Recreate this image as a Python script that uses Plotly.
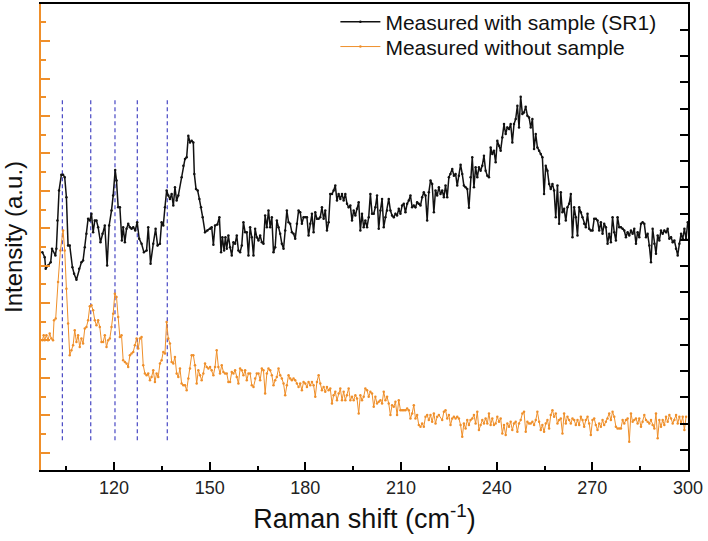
import plotly.graph_objects as go

# Raman spectrum measured with the sample (SR1) - right axis, arbitrary units
with_sample_x = [
    97.52, 98.26, 98.57, 99.30, 100.14, 100.56, 101.61, 101.92, 102.24, 102.76, 103.49, 104.02, 104.54, 105.07,
    105.59, 106.11, 106.95, 107.48, 108.21, 109.05, 109.78, 110.30, 110.83, 111.35, 111.87, 112.40, 112.92, 113.45,
    113.97, 114.49, 115.02, 115.75, 116.38, 117.11, 117.84, 118.47, 119.21, 119.73, 120.36, 120.78, 121.30, 121.83,
    122.46, 122.87, 123.40, 123.92, 124.45, 124.97, 125.50, 126.02, 126.65, 127.27, 127.90, 128.64, 129.37, 130.21,
    130.73, 131.46, 132.30, 133.04, 133.66, 134.40, 134.92, 135.45, 135.97, 136.50, 137.02, 137.54, 138.07, 138.59,
    139.11, 139.64, 140.16,
    141.20, 141.73, 142.25, 142.78, 143.30, 143.82, 144.35, 144.87, 145.18, 145.71, 146.23, 146.76, 147.28, 147.80,
    148.54, 149.27, 150.11, 150.63, 151.16, 151.68, 152.41, 153.04, 153.57, 153.98, 154.51, 154.93, 155.35, 155.87,
    156.39, 156.92, 157.44, 157.97, 158.49, 159.01, 159.54, 160.06, 160.58, 161.11, 161.63, 162.16, 162.68, 163.20,
    163.73, 164.25, 164.77, 165.30, 165.82, 166.35, 166.87, 167.39, 167.92, 168.44, 168.97, 169.49, 170.01, 170.54,
    171.06, 171.58, 172.11, 172.63, 173.16, 173.68, 174.20, 174.73, 175.25, 175.77, 176.30, 176.82, 177.35, 177.87,
    178.39, 178.92, 179.44, 179.97, 180.49, 181.01, 181.54, 182.06, 182.58, 183.11, 183.63, 184.16, 184.68, 185.20,
    185.73, 186.25, 186.77, 187.30, 187.82, 188.35, 188.87, 189.39, 189.92, 190.44, 190.96, 191.49, 192.01, 192.54,
    193.06, 193.58, 194.11, 194.63, 195.16, 195.68, 196.20, 196.73, 197.25, 197.77, 198.30, 198.82, 199.35, 199.87,
    200.39, 200.92, 201.44, 201.96, 202.49, 203.01, 203.54, 204.06, 204.58, 205.11, 205.63, 206.15, 206.68, 207.20,
    207.73, 208.25, 208.77, 209.30,
    209.82, 210.34, 210.87, 211.39, 211.92, 212.44, 212.96, 213.49, 214.01, 214.53, 215.06, 215.58, 216.11, 216.63,
    217.15, 217.68, 218.20, 218.72, 219.25, 219.77, 220.30, 220.82, 221.34, 221.87, 222.39, 222.92, 223.44, 223.96,
    224.49, 225.01, 225.53, 226.06, 226.58, 227.11, 227.63, 228.15, 228.68, 229.20, 229.72, 230.25, 230.77, 231.30,
    231.82, 232.34, 232.87, 233.39, 233.92, 234.44, 234.96, 235.49, 236.01, 236.53, 237.06, 237.58, 238.11, 238.63,
    239.15, 239.68, 240.20, 240.72, 241.25, 241.77, 242.30, 242.82, 243.34, 243.87, 244.39, 244.91, 245.44, 245.96,
    246.49, 247.01, 247.53, 248.06, 248.58, 249.11, 249.63, 250.15, 250.68, 251.20, 251.72, 252.25, 252.77, 253.30,
    253.82, 254.34, 254.87, 255.39, 255.92, 256.44, 256.96, 257.49, 258.01, 258.53, 259.06, 259.58, 260.11, 260.63,
    261.15, 261.68, 262.20, 262.72, 263.25, 263.77, 264.30, 264.82, 265.34, 265.87, 266.39, 266.91, 267.44, 267.96,
    268.49, 269.01, 269.53, 270.06, 270.58, 271.10, 271.63, 272.15, 272.68, 273.20, 273.72, 274.25, 274.77, 275.30,
    275.82, 276.34, 276.87, 277.39, 277.91, 278.44, 278.96, 279.49, 280.01, 280.53, 281.06, 281.58, 282.11, 282.63,
    283.15, 283.68, 284.20, 284.72, 285.25, 285.77, 286.30, 286.82, 287.34, 287.87, 288.39, 288.91, 289.44, 289.96,
    290.49, 291.01, 291.53, 292.06, 292.58, 293.11, 293.63, 294.15, 294.68, 295.20, 295.72, 296.25, 296.77, 297.30,
    297.82, 298.34, 298.87, 299.39, 299.92,
]
with_sample_y = [
    218.3, 213.3, 201.7, 205, 208.3, 221.7, 215, 221.7, 250, 280, 296, 296, 293.3, 273.3,
    225, 225, 203.3, 196.7, 190.7, 201.7, 208.3, 210, 223.3, 236.7, 251.7, 250, 256.7, 238.3,
    250, 250, 243.3, 228.3, 236.7, 245, 205, 245, 260, 275, 300.7, 290, 263.3, 263.3,
    230, 243.3, 228.3, 241.7, 246.7, 243.3, 241.7, 243.3, 240, 248.3, 231.7, 226.7, 218.3, 220,
    243.3, 206.7, 226.7, 241.7, 225, 226.7, 248.3, 245, 263.3, 280, 275, 271.7, 276.7, 265,
    283.3, 270, 275,
    293.3, 305, 311.7, 313.3, 335, 328.3, 330, 328.3, 296.7, 281.7, 280, 271.7, 263.3, 253.3,
    238.3, 240, 241.7, 243.3, 225.7, 245, 246, 253.3, 218.3, 233.3, 220, 233.3, 221.7, 235,
    223.3, 215, 228.3, 226.7, 235, 220, 218.3, 225, 248.3, 238.3, 238.3, 215, 243.3, 233.3,
    215, 241.7, 233.3, 230, 235, 228.3, 226.7, 255, 243.3, 260, 243.3, 253.3, 218.3, 223.3,
    250, 243.3, 236.7, 226.7, 221.7, 240, 260, 248.3, 246.7, 238.3, 236.7, 231.7, 246.7, 260,
    258.3, 246.7, 253.3, 253.3, 253.3, 235, 246.7, 256.7, 238.3, 258.3, 251.7, 251.7, 253.3, 263.3,
    251.7, 260, 240, 248.3, 276.7, 276.7, 280, 285, 270, 276.7, 271.7, 276.7, 270, 276.7,
    266.7, 263.3, 265, 250, 260, 255, 261.7, 268.3, 240, 256.7, 243.3, 250, 243.3, 253.3,
    276.7, 256.7, 256.7, 263.3, 275, 241.7, 260, 271.7, 243.3, 253.3, 260, 271.7, 260, 255,
    253.3, 256.7, 255, 261.7,
    256.7, 265, 266.7, 258.3, 266.7, 270, 275, 263.3, 265, 263.3, 268.3, 266.7, 265, 273.3,
    278.3, 275, 250, 278.3, 290, 286.7, 258.3, 280, 275, 283.3, 276.7, 280, 273.3, 285,
    273.3, 293.3, 296.7, 301.7, 295, 296.7, 285, 295, 306, 296.7, 285, 283.3, 281.7, 262.7,
    293.3, 313.3, 283.3, 303.3, 293.3, 303.3, 300, 305, 315, 300, 295, 293.3, 323.3, 316.7,
    320, 308.3, 330, 325, 320, 333.3, 346.7, 336.7, 343.3, 341.7, 346.7, 328.3, 346.7, 351.7,
    365, 343.3, 374, 356.7, 358.3, 364, 355, 353.3, 343.3, 351.7, 321.7, 336.7, 323.3, 320,
    316.7, 313.3, 276.7, 305, 300, 286.7, 281.7, 286.7, 280, 253.3, 285, 246.7, 278.3, 258.3,
    261.7, 250, 263.3, 266.7, 276.7, 233.3, 263.3, 253.3, 235, 263.3, 258.3, 253.3, 246.7, 243.3,
    256.7, 241.7, 240, 240, 251.7, 251.7, 250, 240, 248.3, 236.7, 246.7, 243.3, 226.7, 236.7,
    228.3, 253.3, 238.3, 230, 253.3, 243.3, 243.3, 241.7, 240, 233.3, 238.3, 235, 240, 236.7,
    241.7, 226.7, 238.3, 233.3, 246.7, 248.3, 246.7, 233.3, 236.7, 225, 208.3, 241.7, 226.7, 216.7,
    235, 230, 240, 236.7, 240, 238.3, 241.7, 231.7, 233.3, 228.3, 230, 221.7, 215, 226.7,
    236.7, 231.7, 241.7, 231.7, 248.3,
]

# Raman spectrum measured without the sample - left axis, arbitrary units
without_sample_x = [
    97.52, 97.94, 98.26, 98.78, 99.30, 99.83, 100.35, 100.87, 101.19, 101.71, 102.45, 103.18, 104.02, 104.54,
    105.07, 105.59, 106.11, 106.64, 107.16, 107.68, 108.21, 108.73, 109.25, 109.78, 110.30, 110.83, 111.35, 111.87,
    112.40, 112.92, 113.45, 113.97, 114.49, 115.02, 115.54, 116.07, 116.59, 117.11, 117.64, 118.16, 118.68, 119.21,
    119.73, 120.26, 120.78, 121.30, 121.83, 122.35, 122.87, 123.40, 123.92, 124.45, 124.97, 125.50, 126.02, 126.54,
    127.07, 127.59, 128.11, 128.64, 129.16, 129.68, 130.21, 130.73, 131.26, 131.78, 132.30, 132.83, 133.35, 133.87,
    134.40, 134.92, 135.45, 135.97, 136.50, 137.02, 137.54, 138.07, 138.59, 139.11, 139.64, 140.16,
    140.68, 141.20, 141.73, 142.25, 142.78, 143.30, 143.82, 144.35, 144.87, 145.39, 145.92, 146.44, 146.97, 147.49,
    148.01, 148.54, 149.06, 149.59, 150.11, 150.63, 151.16, 151.68, 152.20, 152.73, 153.25, 153.78, 154.30, 154.82,
    155.35, 155.87, 156.39, 156.92, 157.44, 157.97, 158.49, 159.01, 159.54, 160.06, 160.58, 161.11, 161.63, 162.16,
    162.68, 163.20, 163.73, 164.25, 164.77, 165.30, 165.82, 166.35, 166.87, 167.39, 167.92, 168.44, 168.97, 169.49,
    170.01, 170.54, 171.06, 171.58, 172.11, 172.63, 173.16, 173.68, 174.20, 174.73, 175.25, 175.77, 176.30, 176.82,
    177.35, 177.87, 178.39, 178.92, 179.44, 179.97, 180.49, 181.01, 181.54, 182.06, 182.58, 183.11, 183.63, 184.16,
    184.68, 185.20, 185.73, 186.25, 186.77, 187.30, 187.82, 188.35, 188.87, 189.39, 189.92, 190.44, 190.96, 191.49,
    192.01, 192.54, 193.06, 193.58, 194.11, 194.63, 195.16, 195.68, 196.20, 196.73, 197.25, 197.77, 198.30, 198.82,
    199.35, 199.87, 200.39, 200.92, 201.44, 201.96, 202.49, 203.01, 203.54, 204.06, 204.58, 205.11, 205.63, 206.15,
    206.68, 207.20, 207.73, 208.25, 208.77, 209.30, 209.82, 210.34, 210.87, 211.39, 211.92, 212.44, 212.96, 213.49,
    214.01, 214.53, 215.06, 215.58, 216.11, 216.63, 217.15, 217.68, 218.20, 218.72, 219.25, 219.77, 220.30, 220.82,
    221.34, 221.87,
    222.92, 223.44, 223.96, 224.49, 225.01, 225.53, 226.06, 226.58, 227.11, 227.63, 228.15, 228.68, 229.20, 229.72,
    230.25, 230.77, 231.30, 231.82, 232.34, 232.87, 233.39, 233.92, 234.44, 234.96, 235.49, 236.01, 236.53, 237.06,
    237.58, 238.11, 238.63, 239.15, 239.68, 240.20, 240.72, 241.25, 241.77, 242.30, 242.82, 243.34, 243.87, 244.39,
    244.91, 245.44, 245.96, 246.49, 247.01, 247.53, 248.06, 248.58, 249.11, 249.63, 250.15, 250.68, 251.20, 251.72,
    252.25, 252.77, 253.30, 253.82, 254.34, 254.87, 255.39, 255.92, 256.44, 256.96, 257.49, 258.01, 258.53, 259.06,
    259.58, 260.11, 260.63, 261.15, 261.68, 262.20, 262.72, 263.25, 263.77, 264.30, 264.82, 265.34, 265.87, 266.39,
    266.91, 267.44, 267.96, 268.49, 269.01, 269.53, 270.06, 270.58, 271.10, 271.63, 272.15, 272.68, 273.20, 273.72,
    274.25, 274.77, 275.30, 275.82, 276.34, 276.87, 277.39, 277.91, 278.44, 278.96, 279.49, 280.01, 280.53, 281.06,
    281.58, 282.11, 282.63, 283.15, 283.68, 284.20, 284.72, 285.25, 285.77, 286.30, 286.82, 287.34, 287.87, 288.39,
    288.91, 289.44, 289.96, 290.49, 291.01, 291.53, 292.06, 292.58, 293.11, 293.63, 294.15, 294.68, 295.20, 295.72,
    296.25, 296.77, 297.30, 297.82, 298.34, 298.87, 299.39,
]
without_sample_y = [
    130, 135, 130, 135, 130, 136.7, 131.7, 130, 150, 151.7, 188.3, 220, 240, 220,
    181.7, 146.7, 115, 120, 125, 140, 128.3, 135, 123.3, 131.7, 126.7, 141.7, 143.3, 150,
    164, 165, 160, 150, 145, 150, 143.3, 128.3, 128.3, 135, 123.3, 130, 131.7, 143.3,
    156.7, 176.7, 173.3, 153.3, 133.3, 135, 110, 108.3, 106.7, 103.3, 115, 116.7, 118.3, 125,
    131.7, 121.7, 131.7, 133.3, 105, 96.7, 95, 96.7, 90, 93.3, 100, 88.3, 96.7, 93.3,
    106.7, 110, 118.3, 116.7, 148.3, 131.7, 126.7, 108.3, 106.7, 113.3, 96.7, 93.3,
    101.7, 86.7, 85, 85, 80, 91.7, 101.7, 115, 115, 105, 86.7, 100, 95, 90,
    96.7, 106.7, 103.3, 101.7, 103.3, 100, 95, 103.3, 120, 103.3, 96.7, 105, 98.3, 96.7,
    96.7, 88.3, 88.3, 98.3, 96.7, 100, 93.3, 86.7, 101.7, 100, 95, 100, 90, 96.7,
    96.7, 85, 83.3, 91.7, 96.7, 96.7, 90, 101.7, 100, 76.7, 96.7, 101.7, 100, 95,
    85, 90, 93.3, 101.7, 95, 91.7, 86.7, 75, 85, 95, 91.7, 90, 91.7, 90,
    86.7, 83.3, 86.7, 80, 88.3, 86.7, 83.3, 88.3, 85, 88.3, 85, 73.3, 88.3, 95,
    86.7, 80, 83.3, 78.3, 83.3, 80, 81.7, 66.7, 75, 78.3, 70, 76.7, 81.7, 70,
    78.3, 70, 75, 81.7, 70, 73.3, 70, 75, 71.7, 56.7, 75, 70, 73.3, 81.7,
    80, 73.3, 78.3, 76.7, 63.3, 73.3, 66.7, 68.3, 70, 66.7, 78.3, 70, 73.3, 66.7,
    55, 65, 63.3, 68.3, 55, 70, 60, 60, 60, 60, 61.7, 60, 51.7, 56.7,
    65, 51.7, 55, 45, 43.3, 46.7, 43.3, 53.3, 55, 50, 55, 48.3, 56.7, 46.7,
    53.3, 55,
    50, 58.3, 60, 51.7, 55, 45, 51.7, 53.3, 51.7, 53.3, 51.7, 45, 33.3, 46.7,
    41.7, 50, 45, 50, 51.7, 55, 46.7, 58.3, 40, 45, 50, 46.7, 51.7, 46.7,
    56.7, 45, 51.7, 45, 46.7, 53.3, 48.3, 51.7, 36.7, 45, 35, 46.7, 43.3, 48.3,
    40, 46.7, 48.3, 38.3, 46.7, 50, 56.7, 58.3, 38.3, 48.3, 46.7, 46.7, 48.3, 45,
    50, 58.3, 48.3, 40, 45, 38.3, 46.7, 50, 41.7, 55, 60, 53.3, 56.7, 46.7,
    50, 51.7, 36.7, 56.7, 46.7, 53.3, 50, 46.7, 51.7, 50, 45, 50, 45, 53.3,
    50, 43.3, 50, 53.3, 46.7, 35, 50, 51.7, 45, 40, 46.7, 43.3, 50, 45,
    48.3, 51.7, 56.7, 50, 58.3, 53.3, 43.3, 41.7, 41.7, 41.7, 50, 46.7, 50, 51.7,
    28.3, 56.7, 48.3, 50, 51.7, 46.7, 51.7, 43.3, 48.3, 55, 50, 48.3, 46.7, 50,
    45, 41.7, 56.7, 31.7, 50, 43.3, 50, 45, 53.3, 48.3, 55, 51.7, 46.7, 50,
    55, 46.7, 53.3, 46.7, 53.3, 40, 53.3,
]

# Raman shifts marked by dashed guide lines (cm^-1)
peak_positions = [103.8, 112.7, 120.3, 127.3, 136.7]

series_names = ["Measured with sample (SR1)", "Measured without sample"]

BLACK = "#111111"
ORANGE = "#EF8F2A"
GUIDE_BLUE = "#4848C4"
FONT = "Arial, 'Liberation Sans', sans-serif"

fig = go.Figure()
fig.add_trace(go.Scatter(
    x=with_sample_x, y=with_sample_y, yaxis="y2", name=series_names[0], legend="legend",
    mode="lines+markers", line=dict(color=BLACK, width=1.5),
    marker=dict(color=BLACK, size=2.5),
))
fig.add_trace(go.Scatter(
    x=without_sample_x, y=without_sample_y, yaxis="y", name=series_names[1], legend="legend2",
    mode="lines+markers", line=dict(color=ORANGE, width=1),
    marker=dict(color=ORANGE, size=2.5),
))

for p in peak_positions:
    fig.add_shape(type="line", xref="x", yref="paper", x0=p, x1=p, y0=0.064, y1=0.80,
                  line=dict(color=GUIDE_BLUE, width=1.2, dash="4px,3px"), layer="below")

legend_style = dict(xanchor="left", yanchor="middle",
                    font=dict(size=21, family=FONT, color="#111111"),
                    bgcolor="rgba(0,0,0,0)", itemwidth=40)

fig.update_layout(
    width=708, height=541,
    margin=dict(l=41, r=20, t=3, b=71),
    plot_bgcolor="white", paper_bgcolor="white",
    font=dict(family=FONT, color="#111111"),
    showlegend=True,
    legend=dict(x=0.455, y=0.959, **legend_style),
    legend2=dict(x=0.455, y=0.906, **legend_style),
    xaxis=dict(
        range=[97.1, 300], tickmode="linear", tick0=120, dtick=30,
        ticks="inside", ticklen=8, tickwidth=1.5, tickcolor="black",
        minor=dict(tick0=105, dtick=30, ticks="inside", ticklen=4, tickwidth=1.5, tickcolor="black"),
        showline=True, linecolor="black", linewidth=2, mirror=True,
        showgrid=False, zeroline=False,
        tickfont=dict(size=18, family=FONT, color="#222222"),
        title=dict(text="Raman shift (cm<sup>-1</sup>)", font=dict(size=27, family=FONT, color="#111111"),
                   standoff=13),
    ),
    yaxis=dict(
        range=[0, 467], tickmode="linear", tick0=17.3, dtick=37.5,
        ticks="inside", ticklen=9, tickwidth=2, tickcolor=ORANGE,
        minor=dict(tick0=36.05, dtick=37.5, ticks="inside", ticklen=5, tickwidth=2, tickcolor=ORANGE),
        showticklabels=False, showline=True, linecolor=ORANGE, linewidth=2,
        showgrid=False, zeroline=False,
        title=dict(text="Intensity (a.u.)", font=dict(size=24, family=FONT, color="#111111"), standoff=14),
    ),
    yaxis2=dict(
        range=[0, 467], overlaying="y", side="right", tickmode="linear", tick0=20.2, dtick=26.3,
        ticks="inside", ticklen=8, tickwidth=1.5, tickcolor="black",
        showticklabels=False, showline=True, linecolor="black", linewidth=2,
        showgrid=False, zeroline=False,
    ),
)

fig.write_html("out.html", config={"displayModeBar": False},
               post_script="document.body.style.margin='0px';")
